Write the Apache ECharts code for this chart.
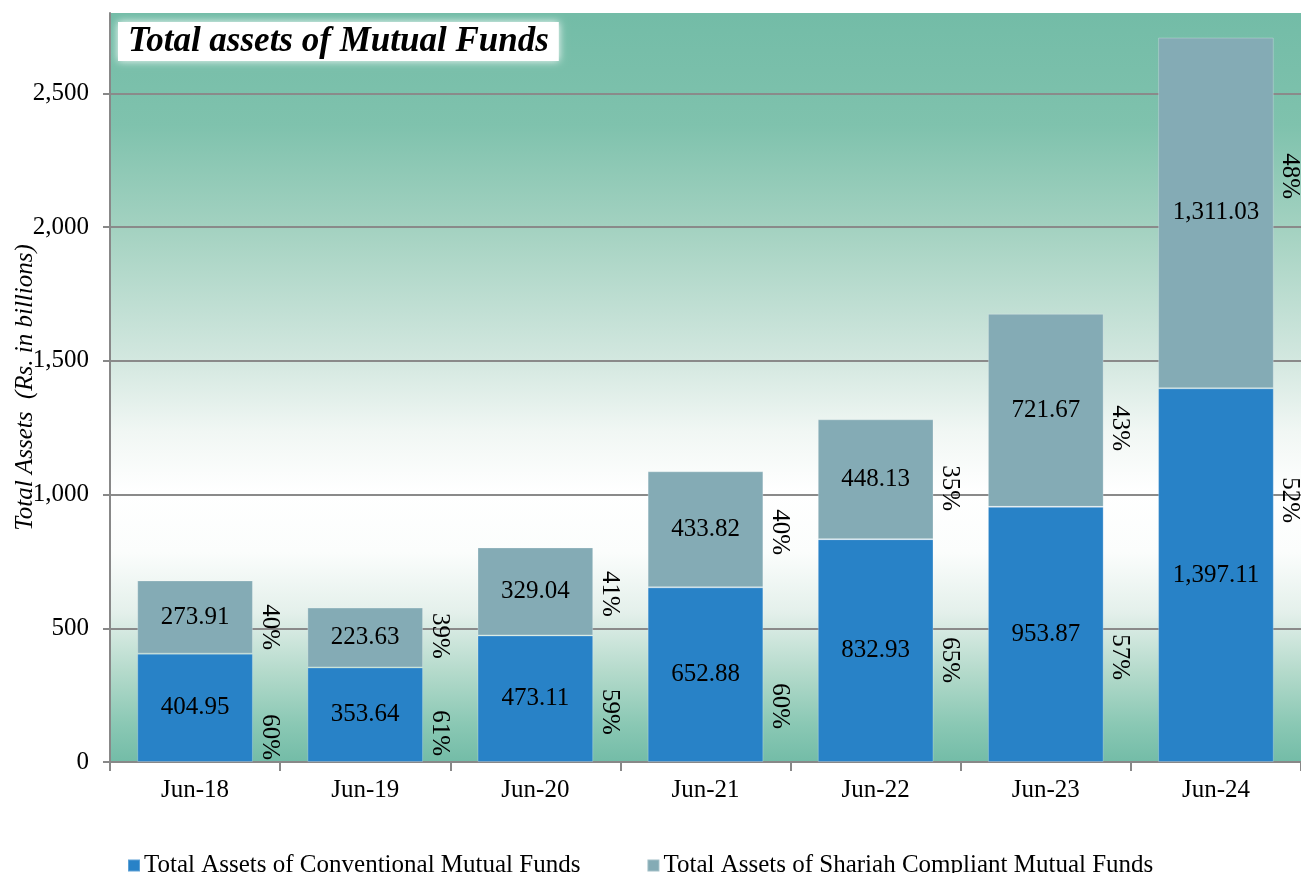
<!DOCTYPE html>
<html>
<head>
<meta charset="utf-8">
<script src="https://cdn.jsdelivr.net/npm/echarts@6/dist/echarts.min.js"></script>
<style>
html,body{margin:0;padding:0;background:#fff;}
#chart{width:1301px;height:873px;}
</style>
</head>
<body>
<div id="chart"></div>
<script>
const categories = ['Jun-18','Jun-19','Jun-20','Jun-21','Jun-22','Jun-23','Jun-24'];
const conventional = [404.95, 353.64, 473.11, 652.88, 832.93, 953.87, 1397.11];
const shariah = [273.91, 223.63, 329.04, 433.82, 448.13, 721.67, 1311.03];
const pctShariah = [40, 39, 41, 40, 35, 43, 48];
const pctConventional = [60, 61, 59, 60, 65, 57, 52];
// vertical anchor (in axis units) where each percentage label sits
const pctShariahAt = [504, 471, 628, 859, 1024, 1248, 2190];
const pctConventionalAt = [93, 108, 187, 209, 381, 392, 979];
const yTicks = [0, 500, 1000, 1500, 2000, 2500];

const FONT = "'Liberation Serif','Times New Roman',serif";
const fmt2 = v => Number(v).toLocaleString('en-US',{minimumFractionDigits:2, maximumFractionDigits:2});

const pctData = [];
categories.forEach((c,i)=>{
  pctData.push([i, pctShariahAt[i], pctShariah[i]]);
  pctData.push([i, pctConventionalAt[i], pctConventional[i]]);
});

const chart = echarts.init(document.getElementById('chart'), null, {renderer:'canvas'});
chart.setOption({
  animation:false,
  backgroundColor:'#fff',
  textStyle:{fontFamily:FONT},
  title:{
    text:'Total assets of Mutual Funds',
    left:118, top:22,
    padding:[2,10,2,10],
    backgroundColor:'#ffffff',
    shadowBlur:8, shadowColor:'rgba(255,255,255,0.95)',
    textStyle:{fontFamily:FONT, fontSize:35, fontStyle:'italic', fontWeight:'bold', color:'#000'}
  },
  legend:{
    left:122, top:848,
    itemWidth:12, itemHeight:12, itemGap:66,
    icon:'rect',
    textStyle:{fontFamily:FONT, fontSize:25, color:'#000', padding:[0,0,0,-1]},
    data:['Total Assets of Conventional Mutual Funds','Total Assets of Shariah Compliant Mutual Funds']
  },
  grid:{
    left:110, right:0, top:13, bottom:111,
    outerBoundsMode:'none',
    containLabel:false,
    show:true, borderWidth:0,
    backgroundColor:{type:'linear', x:0, y:0, x2:0, y2:1, colorStops:[
      {offset:0, color:'#73bca7'},
      {offset:0.15, color:'#7fc2ad'},
      {offset:0.29, color:'#a4d2c1'},
      {offset:0.46, color:'#d2e7df'},
      {offset:0.56, color:'#f1f7f4'},
      {offset:0.64, color:'#ffffff'},
      {offset:0.72, color:'#fbfdfc'},
      {offset:0.80, color:'#e4f0eb'},
      {offset:0.88, color:'#b4dacb'},
      {offset:0.95, color:'#8ac8b4'},
      {offset:1, color:'#73bca7'}
    ]}
  },
  xAxis:{
    type:'category',
    data:categories,
    axisLine:{lineStyle:{color:'#888', width:2}},
    axisTick:{show:true, length:9, lineStyle:{color:'#888', width:2}},
    axisLabel:{fontFamily:FONT, fontSize:25, color:'#000', margin:16}
  },
  yAxis:{
    type:'value',
    min:0, max:2800, interval:500,
    name:'Total Assets  (Rs. in billions)',
    nameLocation:'middle',
    nameGap:72,
    nameMoveOverlap:false,
    nameTextStyle:{fontFamily:FONT, fontSize:25, fontStyle:'italic', color:'#000', padding:[0,0,0,0]},
    axisLine:{show:true, lineStyle:{color:'#888', width:2}},
    axisTick:{show:true, length:7, lineStyle:{color:'#888', width:2}},
    axisLabel:{
      fontFamily:FONT, fontSize:25, color:'#000', margin:21,
      showMaxLabel:false,
      formatter:v => yTicks.includes(v) ? v.toLocaleString('en-US') : ''
    },
    splitLine:{show:true, showMaxLine:false, lineStyle:{color:'#8a8a8a', width:2}}
  },
  series:[
    {
      name:'Total Assets of Conventional Mutual Funds',
      type:'bar', stack:'total',
      data:conventional,
      barCategoryGap:'32%',
      itemStyle:{color:'#2882c7', borderColor:'rgba(255,255,255,0.25)', borderWidth:1},
      label:{show:true, position:'inside', fontFamily:FONT, fontSize:25, color:'#000', formatter:p=>fmt2(p.value)}
    },
    {
      name:'Total Assets of Shariah Compliant Mutual Funds',
      type:'bar', stack:'total',
      data:shariah,
      barCategoryGap:'32%',
      itemStyle:{color:'#84abb5', borderColor:'rgba(255,255,255,0.25)', borderWidth:1},
      label:{show:true, position:'inside', fontFamily:FONT, fontSize:25, color:'#000', formatter:p=>fmt2(p.value)}
    },
    {
      type:'custom',
      silent:true,
      data:pctData,
      encode:{x:0, y:1},
      z:10,
      renderItem:(params, api)=>{
        const pt = api.coord([api.value(0), api.value(1)]);
        const band = api.size([1,0])[0];
        return {
          type:'text',
          x: pt[0] + band*0.335 + 17,
          y: pt[1],
          rotation: -Math.PI/2,
          style:{
            text: api.value(2) + '%',
            x:0, y:0,
            align:'center', verticalAlign:'middle',
            font: "25px 'Liberation Serif','Times New Roman',serif",
            fill:'#000'
          }
        };
      }
    }
  ]
});
</script>
</body>
</html>
